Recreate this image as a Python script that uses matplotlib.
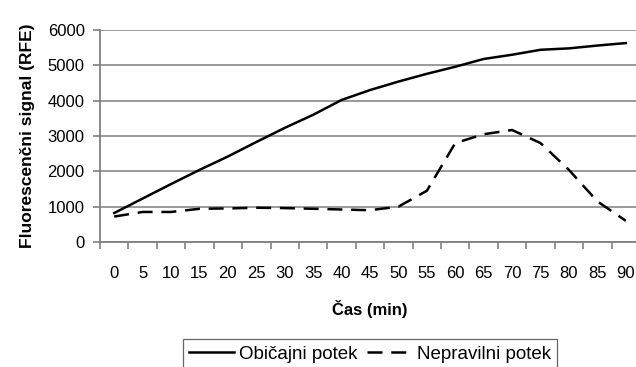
import numpy as np
import matplotlib
matplotlib.use('Agg')
import matplotlib.pyplot as plt

plt.rcParams['font.family'] = ['Liberation Sans', 'DejaVu Sans']

# Kategorije (cas v minutah)
cas = [0, 5, 10, 15, 20, 25, 30, 35, 40, 45, 50, 55, 60, 65, 70, 75, 80, 85, 90]

# Obicajni potek
obicajni = [820, 1230, 1640, 2040, 2420, 2830, 3230, 3600, 4020, 4300,
            4540, 4760, 4960, 5180, 5300, 5440, 5480, 5560, 5630]

# Nepravilni potek
nepravilni = [720, 850, 850, 940, 950, 970, 960, 940, 920, 900,
              1000, 1450, 2800, 3050, 3170, 2800, 2040, 1150, 600]

fig = plt.figure(figsize=(6.36, 3.67), dpi=100)
# os sega cez desni rob slike (kot v izvirniku)
ax = fig.add_axes([100 / 636, 1 - 242 / 367, 540 / 636, 212 / 367])

x = np.arange(len(cas))
ax.plot(x, obicajni, color='black', lw=1.8, label='Običajni potek')
ax.plot(x, nepravilni, color='black', lw=1.8, dashes=(6, 3.5), label='Nepravilni potek')

ax.set_xlim(-0.5, len(cas) - 0.5)
ax.set_ylim(0, 6000)
ax.set_yticks(range(0, 6001, 1000))
ax.set_xticks(x)
ax.set_xticklabels([str(c) for c in cas])
ax.set_xticks(np.arange(-0.5, len(cas), 1), minor=True)
ax.tick_params(axis='x', which='major', length=0, pad=17, labelsize=12)
ax.tick_params(axis='x', which='minor', length=5, color='#808080', width=1.2)
ax.tick_params(axis='y', length=5, color='#808080', width=1.2, labelsize=12, pad=6)

ax.grid(axis='y', color='#9a9a9a', lw=1.4)
ax.set_axisbelow(True)
for s in ['top', 'right']:
    ax.spines[s].set_visible(False)
for s in ['left', 'bottom']:
    ax.spines[s].set_color('#808080')
    ax.spines[s].set_linewidth(1.3)

ax.set_xlabel('Čas (min)', fontsize=12, fontweight='bold', labelpad=14)
ax.set_ylabel('Fluorescenčni signal (RFE)', fontsize=12.5, fontweight='bold', labelpad=9)

leg = fig.legend(loc='center', bbox_to_anchor=(370 / 636, 1 - 354 / 367), ncol=2, fontsize=13.5,
                 frameon=True, fancybox=False, handlelength=2.4, handletextpad=0.25,
                 columnspacing=0.5, borderpad=0.35, borderaxespad=0)
leg.get_frame().set_edgecolor('#404040')
leg.get_frame().set_linewidth(0.9)

fig.savefig('out.png', dpi=100)
